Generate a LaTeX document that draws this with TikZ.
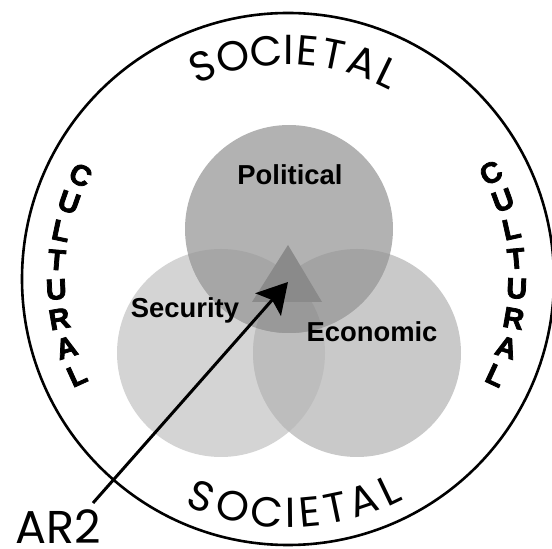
\documentclass[tikz,border=0pt]{standalone}
\usepackage{fontspec}
\setmainfont{Liberation Sans}
\newfontfamily\geofont{Poppins}
\newfontfamily\heavyfont[FakeBold=2.6]{Liberation Sans}
\usetikzlibrary{calc,arrows.meta}

\definecolor{secS}{gray}{0.830}
\definecolor{secE}{gray}{0.790}
\definecolor{secP}{gray}{0.700}
\definecolor{secSE}{gray}{0.740}
\definecolor{secSP}{gray}{0.650}
\definecolor{secPE}{gray}{0.640}
\definecolor{secSPE}{gray}{0.600}
\definecolor{core}{gray}{0.540}

\tikzset{
  ring/.style={draw=black, line width=2.6pt},
  sectorlabel/.style={font=\bfseries\fontsize{27.4}{30}\selectfont, inner sep=0pt, anchor=base},
  cultletter/.style={font=\heavyfont\bfseries\fontsize{29}{29}\selectfont, inner sep=0pt},
  socletter/.style={font=\geofont\fontsize{42}{42}\selectfont, inner sep=0pt},
  pointer/.style={line width=3pt, -{Stealth[length=30pt, width=34pt, inset=6pt]}}
}

\begin{document}
\begin{tikzpicture}[x=1pt, y=1pt]
  \useasboundingbox (0,0) rectangle (552,549);

  % centres
  \coordinate (O) at (288,270);
  \coordinate (P) at (289,320);
  \coordinate (S) at (221,196);
  \coordinate (E) at (357,196);
  \def\rr{104}

  % outer society ring
  \draw[ring] (O) circle[radius=266];

  % the three spheres and their overlaps
  \fill[secS] (S) circle[radius=\rr];
  \fill[secE] (E) circle[radius=\rr];
  \fill[secP] (P) circle[radius=\rr];
  \begin{scope}
    \clip (S) circle[radius=\rr];
    \fill[secSE] (E) circle[radius=\rr];
    \fill[secSP] (P) circle[radius=\rr];
  \end{scope}
  \begin{scope}
    \clip (P) circle[radius=\rr];
    \fill[secPE] (E) circle[radius=\rr];
  \end{scope}
  \begin{scope}
    \clip (S) circle[radius=\rr];
    \clip (P) circle[radius=\rr];
    \fill[secSPE] (E) circle[radius=\rr];
  \end{scope}

  % central triangle
  \fill[core] (288,304) -- (252,247) -- (322,247) -- cycle;

  % sphere labels
  \node[sectorlabel] (political) at (290,364) {Political};
  \node[sectorlabel] (security) at (185,231) {Security};
  \node[sectorlabel] (economic) at (372,207) {Economic};

  % curved ring labels, one letter at a time
  \foreach \ch/\a [count=\i] in {S/111.8,O/103.9,C/95.4,I/89.8,E/85.0,T/78.5,A/71.1,L/64.2} {
    \node[socletter, rotate=\a-90] (socTop\i) at ($(O)+(\a:229)$) {\ch};
  }
  \foreach \ch/\a [count=\i] in {S/-111.7,O/-103.7,C/-95.1,I/-89.4,E/-84.6,T/-78.2,A/-71.2,L/-64.4} {
    \node[socletter, rotate=\a+90] (socBot\i) at ($(O)+(\a:234)$) {\ch};
  }

  % vertical letters on both sides
  \foreach \ch [count=\i] in {C,U,L,T,U,R,A,L} {
    \pgfmathsetmacro\angL{153.4+(\i-1)*7.3}
    \node[cultletter, rotate=\angL-180] (cultL\i) at ($(O)+(\angL:232)$) {\ch};
    \pgfmathsetmacro\angR{27.6-(\i-1)*7.5}
    \node[cultletter, rotate=\angR] (cultR\i) at ($(O)+(\angR:229)$) {\ch};
  }

  % pointer label and arrow
  \node[font=\geofont\fontsize{46}{46}\selectfont, inner sep=0pt, anchor=base west] (ar) at (15,5) {AR2};
  \coordinate (tail) at (93,46);
  \coordinate (tip) at (288,267);
  \draw[pointer] (tail) -- (tip);
\end{tikzpicture}
\end{document}
